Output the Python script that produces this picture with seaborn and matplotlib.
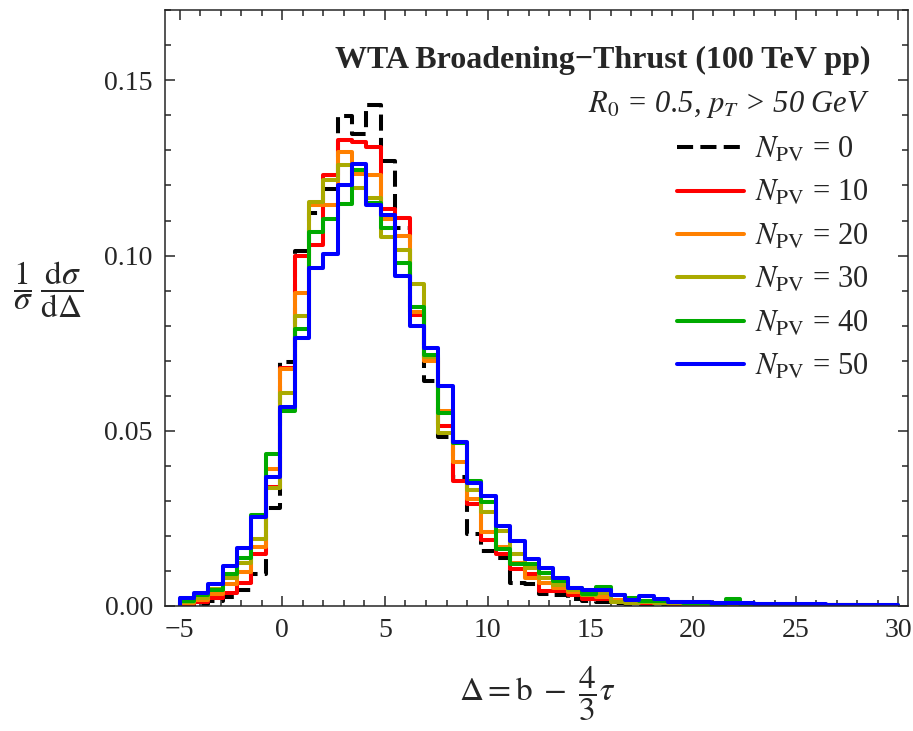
import numpy as np
import pandas as pd
import matplotlib
matplotlib.use("Agg")
import matplotlib.pyplot as plt
import seaborn as sns
from matplotlib.lines import Line2D
from matplotlib.ticker import MultipleLocator

# ---- data: 50 bins of width 0.7 from -5 to 30 ----
bin_start = -5.0
bin_width = 0.7
n_bins = 50

npv_0 = [0.0003, 0.0006, 0.0013, 0.0026, 0.0045, 0.0090, 0.0280, 0.0695, 0.1014, 0.1120,
         0.1189, 0.1398, 0.1348, 0.1431, 0.1269, 0.1079, 0.0835, 0.0643, 0.0483, 0.0367,
         0.0205, 0.0157, 0.0138, 0.0065, 0.0062, 0.0035, 0.0031, 0.0020, 0.0015, 0.0012,
         0.0008, 0.0006, 0.0005, 0.0004, 0.0004, 0.0003, 0.0003, 0.0002, 0.0002, 0.0002,
         0.0001, 0.0001, 0.0001, 0.0001, 0.0001, 0.0001, 0.0000, 0.0000, 0.0000, 0.0000]
npv_10 = [0.0005, 0.0011, 0.0024, 0.0038, 0.0067, 0.0149, 0.0340, 0.0680, 0.1000, 0.1031,
          0.1229, 0.1329, 0.1324, 0.1310, 0.1133, 0.1107, 0.0829, 0.0707, 0.0514, 0.0357,
          0.0290, 0.0189, 0.0148, 0.0105, 0.0090, 0.0043, 0.0043, 0.0030, 0.0020, 0.0020,
          0.0015, 0.0010, 0.0009, 0.0008, 0.0007, 0.0006, 0.0005, 0.0005, 0.0004, 0.0004,
          0.0003, 0.0003, 0.0003, 0.0002, 0.0002, 0.0002, 0.0002, 0.0001, 0.0001, 0.0001]
npv_20 = [0.0008, 0.0018, 0.0033, 0.0062, 0.0097, 0.0169, 0.0390, 0.0676, 0.0892, 0.1143,
          0.1143, 0.1295, 0.1232, 0.1229, 0.1105, 0.1057, 0.0840, 0.0700, 0.0557, 0.0410,
          0.0305, 0.0210, 0.0167, 0.0124, 0.0081, 0.0065, 0.0050, 0.0040, 0.0030, 0.0025,
          0.0018, 0.0012, 0.0010, 0.0009, 0.0008, 0.0007, 0.0006, 0.0005, 0.0005, 0.0004,
          0.0004, 0.0003, 0.0003, 0.0003, 0.0002, 0.0002, 0.0002, 0.0002, 0.0001, 0.0001]
npv_30 = [0.0010, 0.0024, 0.0048, 0.0079, 0.0124, 0.0190, 0.0338, 0.0607, 0.0827, 0.1152,
          0.1216, 0.1257, 0.1192, 0.1165, 0.1054, 0.1016, 0.0919, 0.0710, 0.0495, 0.0465,
          0.0331, 0.0267, 0.0214, 0.0148, 0.0108, 0.0080, 0.0060, 0.0045, 0.0030, 0.0038,
          0.0010, 0.0008, 0.0010, 0.0009, 0.0008, 0.0007, 0.0006, 0.0005, 0.0005, 0.0004,
          0.0004, 0.0003, 0.0003, 0.0002, 0.0002, 0.0002, 0.0002, 0.0001, 0.0001, 0.0001]
npv_40 = [0.0014, 0.0031, 0.0046, 0.0090, 0.0136, 0.0260, 0.0433, 0.0557, 0.0790, 0.1067,
          0.1105, 0.1146, 0.1245, 0.1150, 0.1080, 0.0979, 0.0852, 0.0717, 0.0550, 0.0466,
          0.0357, 0.0297, 0.0162, 0.0121, 0.0119, 0.0095, 0.0070, 0.0050, 0.0033, 0.0054,
          0.0030, 0.0022, 0.0015, 0.0015, 0.0012, 0.0009, 0.0008, 0.0007, 0.0020, 0.0007,
          0.0006, 0.0005, 0.0005, 0.0004, 0.0004, 0.0003, 0.0003, 0.0002, 0.0002, 0.0002]
npv_50 = [0.0024, 0.0038, 0.0064, 0.0114, 0.0165, 0.0254, 0.0367, 0.0569, 0.0765, 0.0964,
          0.1003, 0.1202, 0.1260, 0.1143, 0.1117, 0.0943, 0.0800, 0.0736, 0.0629, 0.0467,
          0.0352, 0.0314, 0.0229, 0.0186, 0.0133, 0.0108, 0.0081, 0.0052, 0.0045, 0.0045,
          0.0030, 0.0017, 0.0028, 0.0019, 0.0012, 0.0010, 0.0010, 0.0009, 0.0008, 0.0008,
          0.0007, 0.0007, 0.0006, 0.0005, 0.0005, 0.0004, 0.0004, 0.0003, 0.0003, 0.0002]

labels = ["0", "10", "20", "30", "40", "50"]
series = [npv_0, npv_10, npv_20, npv_30, npv_40, npv_50]
colors = ["#000000", "#ff0000", "#ff8000", "#aaaa00", "#00aa00", "#0000ff"]
styles = [(0, (4, 1.8)), "-", "-", "-", "-", "-"]

x_ticks = [-5, 0, 5, 10, 15, 20, 25, 30]
y_ticks = [0.00, 0.05, 0.10, 0.15]

edges = bin_start + bin_width * np.arange(n_bins + 1)

sns.set_style("ticks")
plt.rcParams["font.family"] = ["Liberation Serif", "DejaVu Serif"]
plt.rcParams["mathtext.fontset"] = "stix"

fig = plt.figure(figsize=(9.13, 7.31), dpi=100)
ax = fig.add_axes([0.181, 0.171, 0.814, 0.815])

lw = 2.9
for vals, c, ls in zip(series, colors, styles):
    v = list(vals)
    xs = np.concatenate([[edges[0]], edges, [edges[-1]]])
    ys = np.array([0.0] + v + [v[-1], 0.0])
    df = pd.DataFrame({"delta": xs, "dens": ys})
    sns.lineplot(data=df, x="delta", y="dens", sort=False, estimator=None,
                 drawstyle="steps-post", color=c, linewidth=lw, linestyle=ls, ax=ax)

ax.set_xlim(-5.7, 30.5)
ax.set_ylim(0, 0.170)
ax.set_xticks(x_ticks)
ax.set_yticks(y_ticks)
ax.set_xticklabels([f"{t:d}".replace("-", "\u2212") for t in x_ticks])
ax.set_yticklabels([f"{t:.2f}" for t in y_ticks])
ax.xaxis.set_minor_locator(MultipleLocator(1))
ax.yaxis.set_minor_locator(MultipleLocator(0.01))
ax.tick_params(which="both", direction="in", top=True, right=True, width=1.1, labelsize=20)
ax.tick_params(which="major", length=7)
ax.tick_params(which="minor", length=4)
ax.tick_params(axis="y", pad=9)
ax.tick_params(axis="x", pad=9)
for s in ax.spines.values():
    s.set_linewidth(1.1)

ax.set_xlabel(r"$\Delta = \mathrm{b}\; -\; \dfrac{4}{3}\tau$", fontsize=24, labelpad=15)
ax.set_ylabel(r"$\dfrac{1}{\sigma}\;\dfrac{\mathrm{d}\sigma}{\mathrm{d}\Delta}$", fontsize=24,
              rotation=0, ha="center", va="center")
ax.yaxis.set_label_coords(-0.158, 0.53)

ax.text(0.949, 0.916, "WTA Broadening\u2212Thrust (100 TeV pp)", transform=ax.transAxes,
        ha="right", va="center", fontsize=23, fontweight="bold")
ax.text(0.949, 0.842, r"$R_0$ = 0.5, $p_T$ > 50 GeV", transform=ax.transAxes,
        ha="right", va="center", fontsize=22, fontstyle="italic")

handles = [Line2D([], [], color=c, lw=lw, linestyle=ls) for c, ls in zip(colors, styles)]
leg_labels = [r"$N_{\mathrm{PV}}$ = " + l for l in labels]
ax.legend(handles, leg_labels, loc="upper right", bbox_to_anchor=(0.962, 0.81), frameon=False,
          fontsize=22, handlelength=2.2, handletextpad=0.35, labelspacing=0.465,
          borderaxespad=0.0)

fig.savefig("out.png", dpi=100)
